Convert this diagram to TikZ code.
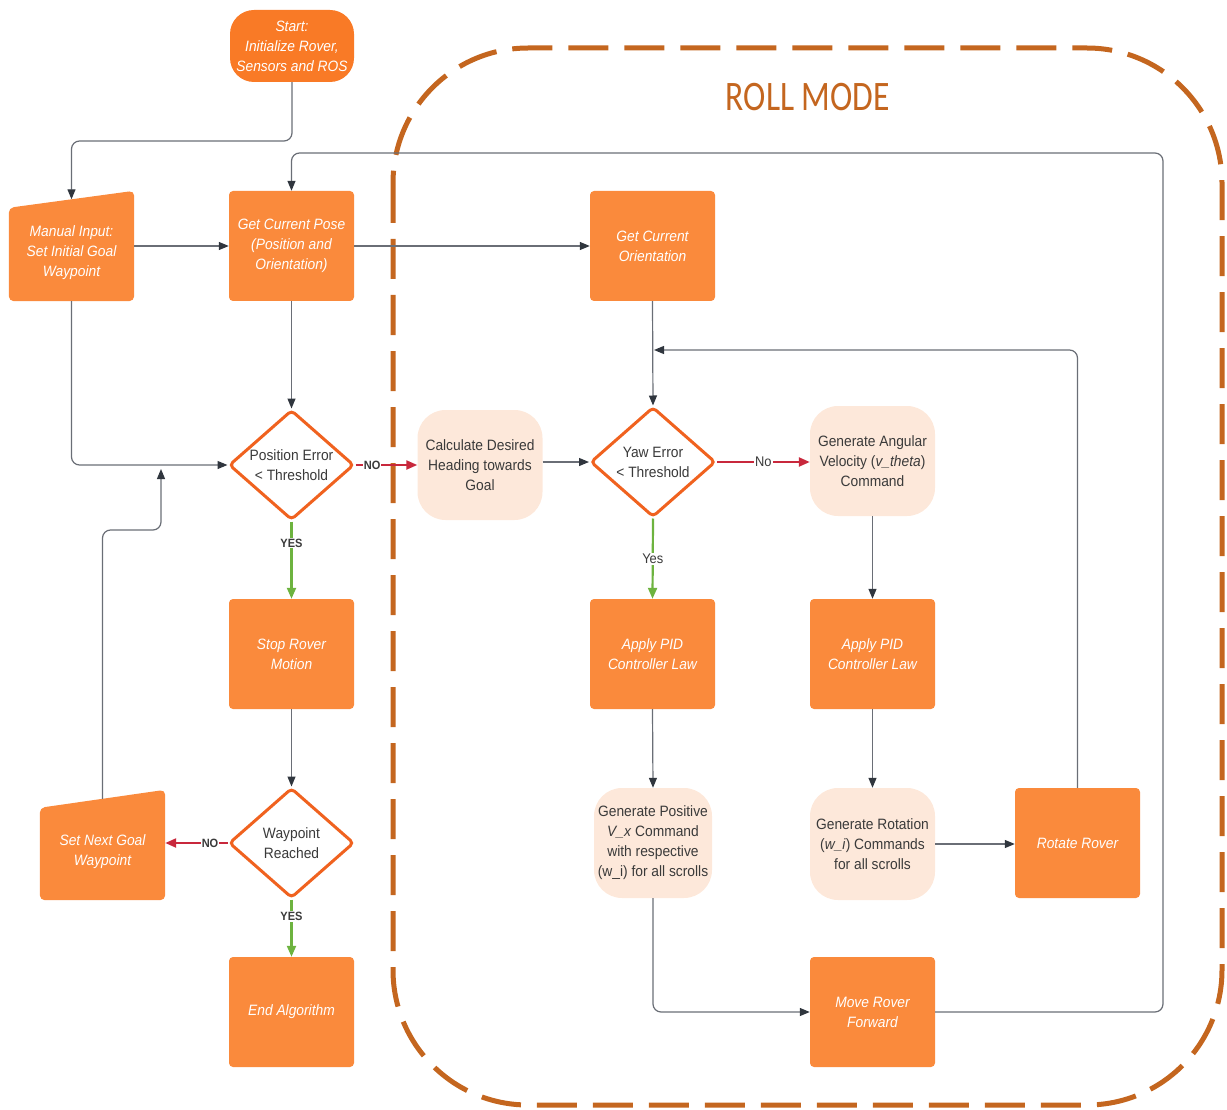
\documentclass[tikz,border=0pt]{standalone}
\usepackage{fontspec}
\setmainfont{Liberation Sans}[FakeStretch=0.92]
\newfontfamily\titlefont{Carlito}[FakeStretch=0.8]
\usetikzlibrary{arrows.meta,shapes.geometric,calc,backgrounds}
\definecolor{boxorange}{HTML}{FA8A3C}
\definecolor{startorange}{HTML}{F97A26}
\definecolor{decorange}{HTML}{F0621F}
\definecolor{peach}{HTML}{FDE8DA}
\definecolor{textgray}{HTML}{3A3A3A}
\definecolor{linegray}{HTML}{6A6E76}
\definecolor{tipgray}{HTML}{30363E}
\definecolor{noRed}{HTML}{C8283C}
\definecolor{yesGreen}{HTML}{6DB33F}
\definecolor{rollbrown}{HTML}{C4661F}
\newcommand\nf{\fontsize{15}{20}\selectfont}
\tikzset{
  obox/.style={rectangle, rounded corners=4pt, fill=boxorange, minimum width=125pt, minimum height=110pt, text=white, font=\nf\itshape, align=center, inner sep=2pt},
  mshape/.style={rectangle, minimum width=125pt, minimum height=96pt, text=white, font=\nf\itshape, align=center, inner sep=2pt},
  pbox/.style={rectangle, rounded corners=28pt, fill=peach, minimum width=125pt, minimum height=110pt, text=textgray, font=\nf, align=center, inner sep=2pt},
  decision/.style={diamond, draw=decorange, line width=3pt, fill=white, minimum width=125pt, minimum height=110pt, aspect=1.136, inner sep=0pt, rounded corners=4pt, text=textgray, font=\nf, align=center},
  conn/.style={draw=linegray, line width=1.2pt, rounded corners=8pt, -{Triangle[length=10pt,width=8pt,color=tipgray]}},
  noarrow/.style={draw=noRed, line width=2.2pt, -{Triangle[length=11pt,width=9pt,color=noRed]}},
  yesarrow/.style={draw=yesGreen, line width=2.2pt, -{Triangle[length=11pt,width=9pt,color=yesGreen]}},
  blbl/.style={fill=white, inner sep=1pt, text=textgray, font=\fontsize{12}{14}\selectfont\bfseries},
  rlbl/.style={fill=white, inner sep=1pt, text=textgray, font=\fontsize{14}{16}\selectfont},
  rollborder/.style={draw=rollbrown, line width=5pt, dash pattern=on 40pt off 16pt, rounded corners=135pt}
}
\begin{document}
\begin{tikzpicture}[x=1pt,y=-1pt]
\useasboundingbox (0,0) rectangle (1227,1110);
% Roll mode border
\draw[rollborder] (393,48) rectangle (1222,1105);
\node[text=rollbrown, font=\titlefont\fontsize{42}{44}\selectfont] (title) at (808,97) {ROLL MODE};

% nodes
\node[rectangle, rounded corners=24pt, fill=startorange, minimum width=124pt, minimum height=72pt, text=white, font=\nf\itshape, align=center, inner sep=1pt] (start) at (292,46) {Start:\\Initialize Rover,\\Sensors and ROS};
\node[mshape] (manual) at (71.5,253) {Manual Input:\\Set Initial Goal\\Waypoint};
\node[obox] (pose) at (291.5,246) {Get Current Pose\\(Position and\\Orientation)};
\node[obox] (orient) at (652.5,246) {Get Current\\Orientation};
\node[decision] (pos) at (291.5,465) {Position Error\\< Threshold};
\node[pbox] (calc) at (480,465) {Calculate Desired\\Heading towards\\Goal};
\node[decision] (yaw) at (653,462) {Yaw Error\\< Threshold};
\node[pbox] (genang) at (872.5,461) {Generate Angular\\Velocity (\textit{v\_theta})\\Command};
\node[obox] (stopmotion) at (291.5,654) {Stop Rover\\Motion};
\node[obox] (pidL) at (652.5,654) {Apply PID\\Controller Law};
\node[obox] (pidR) at (872.5,654) {Apply PID\\Controller Law};
\node[decision] (wp) at (291.5,843) {Waypoint\\Reached};
\node[mshape] (setnext) at (102.5,852) {Set Next Goal\\Waypoint};
\node[pbox, minimum width=118pt] (genpos) at (653,843) {Generate Positive\\\textit{V\_x} Command\\with respective\\(w\_i) for all scrolls};
\node[pbox, minimum height=112pt] (genrot) at (872.5,844) {Generate Rotation\\(\textit{w\_i}) Commands\\for all scrolls};
\node[obox] (rotate) at (1077.5,843) {Rotate Rover};
\node[obox] (endalg) at (291.5,1012) {End Algorithm};
\node[obox] (move) at (872.5,1012) {Move Rover\\Forward};

% manual input shapes (background)
\begin{scope}[on background layer]
\fill[boxorange, rounded corners=5pt] (manual.south west) -- (manual.south east) -- ($(manual.north east)+(0pt,14pt)$) -- ($(manual.north west)+(0pt,-3pt)$) -- cycle;
\fill[boxorange, rounded corners=5pt] (setnext.south west) -- (setnext.south east) -- ($(setnext.north east)+(0pt,14pt)$) -- ($(setnext.north west)+(0pt,-4pt)$) -- cycle;
\end{scope}

% junction coordinates
\coordinate (mtop) at ($(manual.north)+(0pt,5.5pt)$);
\coordinate (sntop) at ($(setnext.north)+(0pt,5pt)$);
\coordinate (j1) at (161,469);
\coordinate (j2) at (654,350);

% connectors
\draw[conn] (start.south) |- (71.5,141) -- (mtop);
\draw[conn] (manual.east |- pose.west) -- (pose.west);
\draw[conn] (pose.east) -- (orient.west);
\draw[conn] (pose.south) -- (pos.north);
\draw[conn] (manual.south) |- (pos.west);
\draw[conn] (sntop) |- (161,530) -- (j1);
\draw[noarrow] (pos.east) -- node[blbl, pos=0.27] {NO} (calc.west);
\draw[yesarrow] (pos.south) -- node[blbl, pos=0.28] {YES} (stopmotion.north);
\draw[conn] (stopmotion.south) -- (wp.north);
\draw[noarrow] (wp.west) -- node[blbl, pos=0.28] {NO} (setnext.east |- wp.west);
\draw[yesarrow] (wp.south) -- node[blbl, pos=0.3] {YES} (endalg.north);
\draw[conn] (calc.east |- yaw.west) -- (yaw.west);
\draw[conn] (orient.south) -- (yaw.north);
\draw[noarrow] (yaw.east) -- node[rlbl, pos=0.5] {No} (genang.west |- yaw.east);
\draw[yesarrow] (yaw.south) -- node[rlbl, pos=0.5] {Yes} (pidL.north);
\draw[conn] (genang.south) -- (pidR.north);
\draw[conn] (pidL.south) -- (genpos.north);
\draw[conn] (pidR.south) -- (genrot.north);
\draw[conn] (genrot.east) -- (rotate.west |- genrot.east);
\draw[conn] (rotate.north) |- (j2);
\draw[conn] (genpos.south) |- (move.west);
\draw[conn] (move.east) -| (1163,153) -| (pose.north);
\end{tikzpicture}
\end{document}
